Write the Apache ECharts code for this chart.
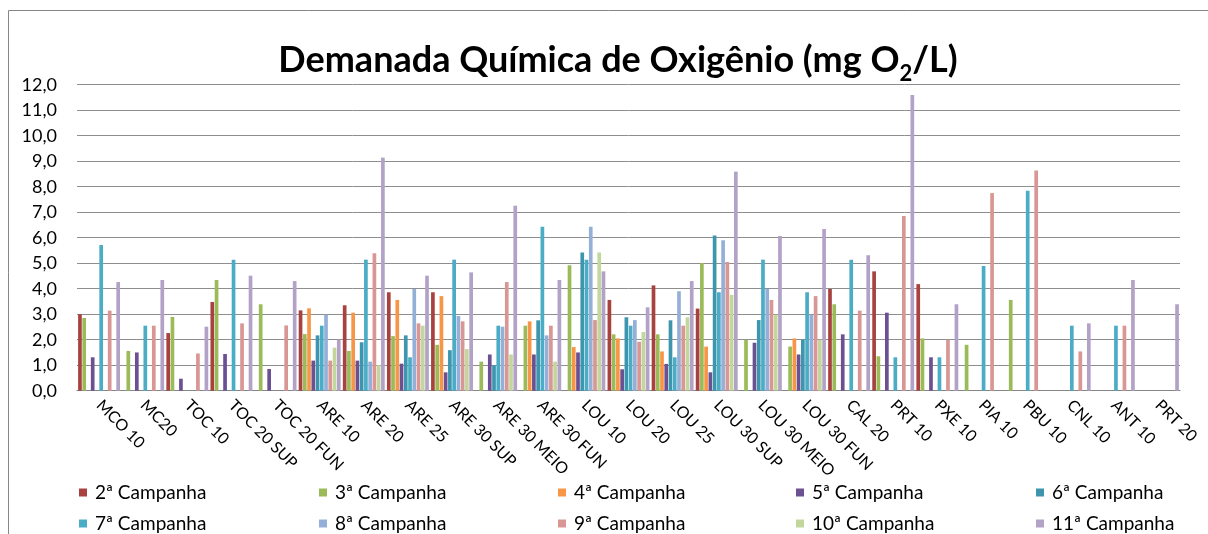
<!DOCTYPE html>
<html>
<head>
<meta charset="utf-8">
<script src="https://cdn.jsdelivr.net/npm/echarts@6/dist/echarts.min.js"></script>
<style>
html,body{margin:0;padding:0;background:#fff;}
#chart{width:1208px;height:534px;}
</style>
</head>
<body>
<div id="chart"></div>
<script>
const categories = ['MCO 10','MC20','TOC 10','TOC 20 SUP','TOC 20 FUN','ARE 10','ARE 20','ARE 25','ARE 30 SUP','ARE 30 MEIO','ARE 30 FUN','LOU 10','LOU 20','LOU 25','LOU 30 SUP','LOU 30 MEIO','LOU 30 FUN','CAL 20','PRT 10','PXE 10','PIA 10','PBU 10','CNL 10','ANT 10','PRT 20'];

const seriesNames = ['2ª Campanha','3ª Campanha','4ª Campanha','5ª Campanha','6ª Campanha','7ª Campanha','8ª Campanha','9ª Campanha','10ª Campanha','11ª Campanha'];

const camp2  = [3.00, null, 2.26, 3.48, null, 3.15, 3.35, 3.86, 3.86, null, null, null, 3.56, 4.13, 3.22, null, null, 3.99, 4.68, 4.18, null, null, null, null, null];
const camp3  = [2.85, 1.56, 2.89, 4.34, 3.39, 2.22, 1.56, 2.14, 1.80, 1.14, 2.55, 4.92, 2.21, 2.21, 5.00, 2.00, 1.73, 3.39, 1.35, 2.05, 1.80, 3.56, null, null, null];
const camp4  = [null, null, null, null, null, 3.23, 3.06, 3.56, 3.71, null, 2.72, 1.71, 2.05, 1.54, 1.73, null, 2.05, null, null, null, null, null, null, null, null];
const camp5  = [1.31, 1.50, 0.47, 1.44, 0.85, 1.18, 1.18, 1.06, 0.72, 1.42, 1.42, 1.50, 0.84, 1.05, 0.72, 1.88, 1.42, 2.21, 3.06, 1.31, null, null, null, null, null];
const camp6  = [null, null, null, null, null, 2.17, 1.90, 2.17, 1.59, 1.00, 2.76, 5.42, 2.88, 2.76, 6.09, 2.77, 2.00, null, null, null, null, null, null, null, null];
const camp7  = [5.71, 2.55, null, 5.14, null, 2.55, 5.14, 1.31, 5.14, 2.55, 6.43, 5.14, 2.55, 1.31, 3.86, 5.14, 3.86, 5.14, 1.31, 1.31, 4.89, 7.84, 2.55, 2.55, null];
const camp8  = [null, null, null, null, null, 2.98, 1.14, 3.99, 2.93, 2.51, 2.17, 6.43, 2.77, 3.90, 5.90, 3.99, 2.98, null, null, null, null, null, null, null, null];
const camp9  = [3.14, 2.55, 1.46, 2.64, 2.56, 1.18, 5.39, 2.64, 2.72, 4.26, 2.55, 2.77, 1.92, 2.55, 5.05, 3.56, 3.71, 3.14, 6.85, 2.00, 7.75, 8.64, 1.54, 2.55, null];
const camp10 = [null, null, null, null, null, 1.69, 1.00, 2.55, 1.63, 1.42, 1.14, 5.42, 2.30, 2.88, 3.76, 2.98, 2.00, null, null, null, null, null, null, null, null];
const camp11 = [4.26, 4.34, 2.51, 4.51, 4.30, 2.00, 9.14, 4.51, 4.64, 7.25, 4.34, 4.68, 3.27, 4.30, 8.59, 6.07, 6.34, 5.31, 11.60, 3.39, null, null, 2.64, 4.34, 3.39];

const seriesValues = [camp2, camp3, camp4, camp5, camp6, camp7, camp8, camp9, camp10, camp11];
const colors = ['#A8423F','#9BBB59','#F79646','#6B5092','#3D96AE','#4BACC6','#95B0D8','#D99694','#C3D69B','#B3A2C7'];

const FONT = 'Lato';
const chart = echarts.init(document.getElementById('chart'), null, {renderer:'canvas'});

const legendX = [74, 314, 553, 791, 1031];
const legendY = [478, 509];
const legends = seriesNames.map((name, i) => ({
  left: legendX[i % 5], top: legendY[Math.floor(i / 5)], orient: 'horizontal',
  icon: 'rect', itemWidth: 8, itemHeight: 8,
  data: [name],
  textStyle: {fontFamily: FONT, fontSize: 19, color: '#000', padding: [0,0,0,3]}
}));

const option = {
  animation: false,
  color: colors,
  title: {
    text: '{a|Demanada Química de Oxigênio (mg O}{s|2}{a|/L)}',
    left: 613, textAlign: 'center', top: 31,
    textStyle: {
      rich: {
        a: {fontFamily: FONT, fontWeight: 'bold', fontSize: 36, color: '#000', lineHeight: 42, verticalAlign: 'bottom'},
        s: {fontFamily: FONT, fontWeight: 'bold', fontSize: 22, color: '#000', lineHeight: 42, verticalAlign: 'bottom', padding: [0,0,-7,0]}
      }
    }
  },
  legend: legends,
  grid: {left: 77, right: 28, top: 84.7, bottom: 143.3, containLabel: false},
  xAxis: {
    type: 'category', data: categories,
    axisLine: {show: true, lineStyle: {color: '#868686', width: 1}},
    axisTick: {show: false},
    axisLabel: {rotate: -45, interval: 0, margin: 12, fontFamily: FONT, fontSize: 16, color: '#000'}
  },
  yAxis: {
    type: 'value', min: 0, max: 12, interval: 1,
    axisLine: {show: false}, axisTick: {show: false},
    splitLine: {lineStyle: {color: '#8E8E8E', width: 1}},
    axisLabel: {margin: 20, fontFamily: FONT, fontSize: 18, color: '#000',
      formatter: v => v.toFixed(1).replace('.', ',')}
  },
  graphic: [{
    type: 'rect', shape: {x: 8.5, y: 10.5, width: 1400, height: 800},
    style: {fill: 'none', stroke: '#868686', lineWidth: 1}, silent: true, z: -10
  }],
  series: seriesValues.map((vals, i) => ({
    name: seriesNames[i], type: 'bar', data: vals,
    barCategoryGap: '5%', barGap: '15%',
    itemStyle: {color: colors[i]}
  }))
};
chart.setOption(option);
</script>
</body>
</html>
